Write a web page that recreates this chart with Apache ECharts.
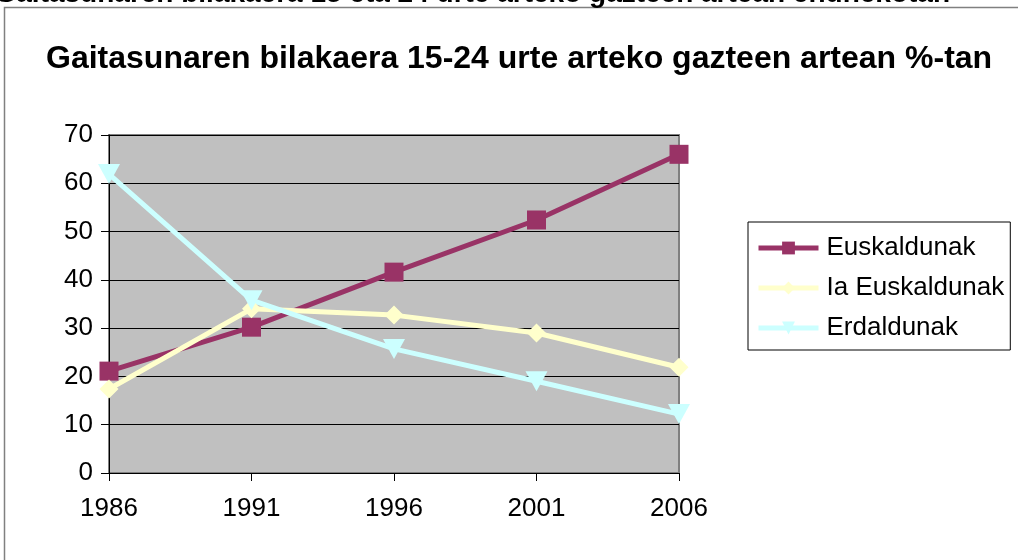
<!DOCTYPE html>
<html><head><meta charset="utf-8">
<script src="https://cdn.jsdelivr.net/npm/echarts@6/dist/echarts.min.js"></script>
<style>html,body{margin:0;padding:0;background:#fff}#c{width:1018px;height:560px}</style>
</head><body><div id="c"></div>
<script>
const years = ['1986','1991','1996','2001','2006'];
const euskaldunak = [21.1, 30.2, 41.6, 52.4, 66.0];
const iaEuskaldunak = [17.4, 34.0, 32.7, 29.0, 21.9];
const erdaldunak = [61.9, 35.8, 25.7, 19.0, 12.2];
const seriesNames = ['Euskaldunak', 'Ia Euskaldunak', 'Erdaldunak'];
const topCaption = 'Gaitasunaren bilakaera 15 eta 24 urte arteko gazteen artean ehunekotan';
const mainTitle = 'Gaitasunaren bilakaera 15-24 urte arteko gazteen artean %-tan';

const FONT = '"Liberation Sans", Arial, sans-serif';
const chart = echarts.init(document.getElementById('c'), null, {renderer: 'canvas'});
chart.setOption({
  animation: false,
  backgroundColor: '#fff',
  textStyle: {fontFamily: FONT},
  graphic: [
    {type: 'rect', shape: {x: 4.5, y: 7.5, width: 1100, height: 700}, style: {fill: 'none', stroke: '#808080', lineWidth: 1.5}, z: -1},
    {type: 'text', x: 950, y: -6, style: {text: topCaption, fill: '#000', font: 'bold 28px ' + FONT, align: 'right', verticalAlign: 'middle'}}
  ],
  title: {
    text: mainTitle, left: 41, top: 38,
    textStyle: {fontFamily: FONT, fontSize: 32, fontWeight: 'bold', color: '#000'}
  },
  grid: {left: 109, right: 339, top: 135, bottom: 87, show: true, backgroundColor: '#C0C0C0', borderColor: '#808080', borderWidth: 2},
  legend: {
    orient: 'vertical', left: 748, top: 222,
    padding: [13, 6, 9, 8],
    borderColor: '#000', borderWidth: 1,
    itemWidth: 60, itemHeight: 16, itemGap: 14,
    lineStyle: {width: 5},
    textStyle: {fontFamily: FONT, fontSize: 26, color: '#000', padding: [0, 0, 0, 3]},
    data: seriesNames
  },
  xAxis: {
    type: 'category', data: years, boundaryGap: false,
    axisLine: {lineStyle: {color: '#000', width: 1}},
    axisTick: {show: true, length: 8, lineStyle: {color: '#000'}},
    axisLabel: {color: '#000', fontSize: 26, fontFamily: FONT, margin: 23},
    splitLine: {show: false}
  },
  yAxis: {
    type: 'value', min: 0, max: 70, interval: 10,
    axisLine: {show: true, lineStyle: {color: '#000', width: 1}},
    axisTick: {show: true, length: 8, lineStyle: {color: '#000'}},
    axisLabel: {color: '#000', fontSize: 26, fontFamily: FONT, margin: 16},
    splitLine: {show: true, lineStyle: {color: '#000', width: 1}}
  },
  series: [
    {name: seriesNames[0], type: 'line', data: euskaldunak, color: '#993366',
     lineStyle: {width: 5, color: '#993366'}, symbol: 'rect', symbolSize: 19,
     itemStyle: {color: '#993366', borderWidth: 0}},
    {name: seriesNames[1], type: 'line', data: iaEuskaldunak, color: '#FFFFCC',
     lineStyle: {width: 5, color: '#FFFFCC'}, symbol: 'diamond', symbolSize: [19, 19],
     itemStyle: {color: '#FFFFCC', borderWidth: 0}},
    {name: seriesNames[2], type: 'line', data: erdaldunak, color: '#CCFFFF',
     lineStyle: {width: 5, color: '#CCFFFF'}, symbol: 'triangle', symbolRotate: 180, symbolSize: [22, 20],
     itemStyle: {color: '#CCFFFF', borderWidth: 0}}
  ]
});
</script></body></html>
